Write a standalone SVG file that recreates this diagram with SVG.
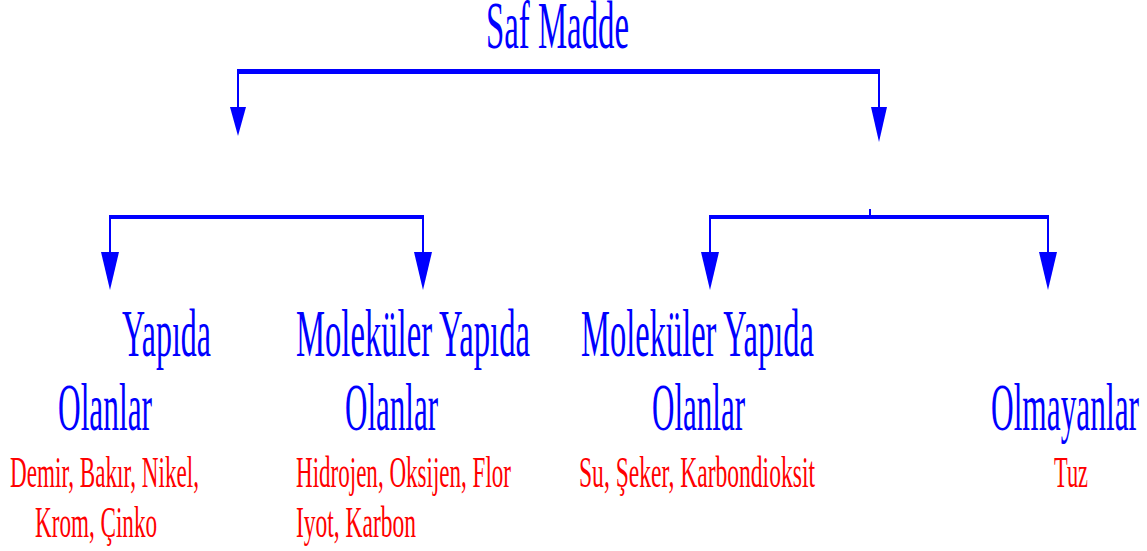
<svg xmlns="http://www.w3.org/2000/svg" width="1147" height="551" viewBox="0 0 1147 551">
<style>
.b{font-family:"Liberation Serif","Times New Roman",serif;font-size:33px;fill:#0000FF}
.r{font-family:"Liberation Serif","Times New Roman",serif;font-size:22px;fill:#FF0000}
.ln{stroke:#0000FF;fill:none}
.ah{fill:#0000FF}
</style>
<rect width="1147" height="551" fill="#FFFFFF"/>
<g id="connectors">
<line class="ln" x1="237" y1="71.5" x2="880" y2="71.5" stroke-width="5"/>
<line class="ln" x1="238" y1="71" x2="238" y2="110" stroke-width="2"/>
<line class="ln" x1="879" y1="71" x2="879" y2="110" stroke-width="2"/>
<polygon class="ah" points="230,107 246,107 238,136"/>
<polygon class="ah" points="871,107 887,107 879,142"/>
<line class="ln" x1="109" y1="217" x2="424" y2="217" stroke-width="4"/>
<line class="ln" x1="110" y1="217" x2="110" y2="255" stroke-width="2"/>
<line class="ln" x1="423" y1="217" x2="423" y2="255" stroke-width="2"/>
<polygon class="ah" points="101,252 119,252 110,290"/>
<polygon class="ah" points="414,252 432,252 423,290"/>
<line class="ln" x1="709" y1="217" x2="1049" y2="217" stroke-width="4"/>
<line class="ln" x1="710" y1="217" x2="710" y2="255" stroke-width="2"/>
<line class="ln" x1="1048" y1="217" x2="1048" y2="255" stroke-width="2"/>
<polygon class="ah" points="701,252 719,252 710,290"/>
<polygon class="ah" points="1039,252 1057,252 1048,290"/>
<rect x="869" y="209" width="2" height="6" fill="#0000FF"/>
</g>
<g id="root">
<text class="b" transform="translate(486,48) scale(1,2.06)" textLength="143" lengthAdjust="spacingAndGlyphs">Saf Madde</text>
</g>
<g id="metal">
<text class="b" transform="translate(122,356) scale(1,2.06)" textLength="89" lengthAdjust="spacingAndGlyphs">Yapıda</text>
<text class="b" transform="translate(58,430) scale(1,2.06)" textLength="94" lengthAdjust="spacingAndGlyphs">Olanlar</text>
<text class="r" transform="translate(10,487) scale(1,2.06)" textLength="189" lengthAdjust="spacingAndGlyphs">Demir, Bakır, Nikel,</text>
<text class="r" transform="translate(35,537) scale(1,2.06)" textLength="122" lengthAdjust="spacingAndGlyphs">Krom, Çinko</text>
</g>
<g id="molecular-element">
<text class="b" transform="translate(296,356) scale(1,2.06)" textLength="234" lengthAdjust="spacingAndGlyphs">Moleküler Yapıda</text>
<text class="b" transform="translate(345,430) scale(1,2.06)" textLength="93" lengthAdjust="spacingAndGlyphs">Olanlar</text>
<text class="r" transform="translate(296,487) scale(1,2.06)" textLength="215" lengthAdjust="spacingAndGlyphs">Hidrojen, Oksijen, Flor</text>
<text class="r" transform="translate(296,537) scale(1,2.06)" textLength="120" lengthAdjust="spacingAndGlyphs">Iyot, Karbon</text>
</g>
<g id="molecular-compound">
<text class="b" transform="translate(581,356) scale(1,2.06)" textLength="233" lengthAdjust="spacingAndGlyphs">Moleküler Yapıda</text>
<text class="b" transform="translate(652,430) scale(1,2.06)" textLength="93" lengthAdjust="spacingAndGlyphs">Olanlar</text>
<text class="r" transform="translate(579,487) scale(1,2.06)" textLength="236" lengthAdjust="spacingAndGlyphs">Su, Şeker, Karbondioksit</text>
</g>
<g id="non-molecular">
<text class="b" transform="translate(991,430) scale(1,2.06)" textLength="148" lengthAdjust="spacingAndGlyphs">Olmayanlar</text>
<text class="r" transform="translate(1054,487) scale(1,2.06)" textLength="34" lengthAdjust="spacingAndGlyphs">Tuz</text>
</g>
</svg>
